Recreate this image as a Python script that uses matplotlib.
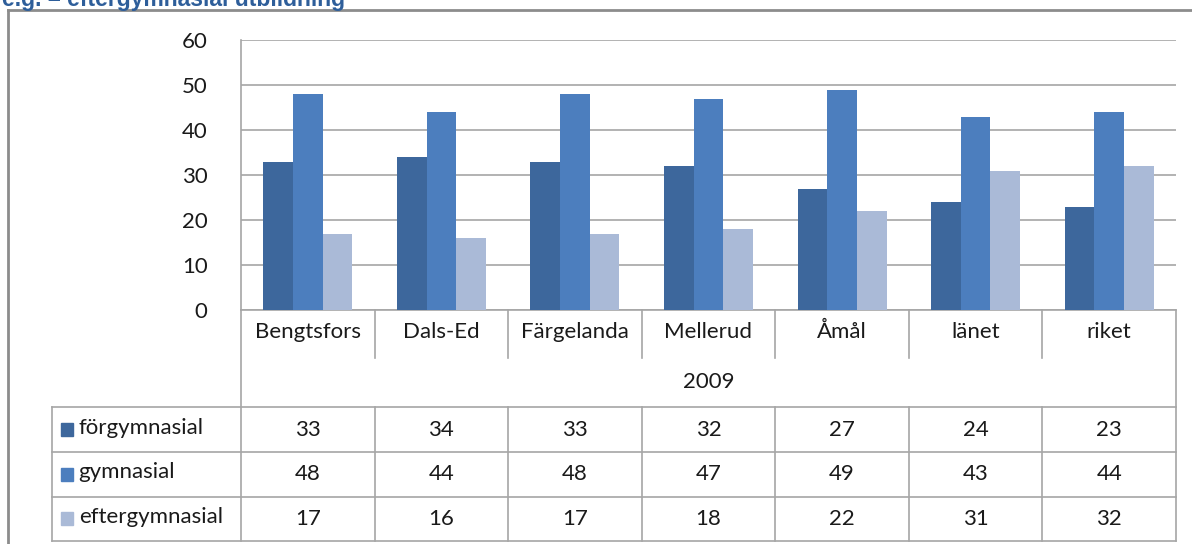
import numpy as np
import matplotlib.pyplot as plt
from matplotlib.lines import Line2D
from matplotlib.patches import Rectangle

plt.rcParams['font.family'] = ['Lato', 'DejaVu Sans']

# data
places = ['Bengtsfors', 'Dals-Ed', 'Färgelanda', 'Mellerud', 'Åmål', 'länet', 'riket']
year = '2009'
series = ['förgymnasial', 'gymnasial', 'eftergymnasial']
forgymnasial = [33, 34, 33, 32, 27, 24, 23]
gymnasial = [48, 44, 48, 47, 49, 43, 44]
eftergymnasial = [17, 16, 17, 18, 22, 31, 32]
values = [forgymnasial, gymnasial, eftergymnasial]
colors = ['#3D679C', '#4C7EBE', '#AABAD7']
title = 'e.g. – eftergymnasial utbildning'

W, H = 1192, 544
fs = 16
tc = '#1A1A1A'
fig = plt.figure(figsize=(W / 100, H / 100), dpi=100)

# plot area in pixels: x 241..1176, y 40..310
ax = fig.add_axes([241 / W, 1 - 310 / H, (1176 - 241) / W, (310 - 40) / H])
x = np.arange(len(places))
bw = 0.222
for k, (vals, c) in enumerate(zip(values, colors)):
    ax.bar(x + (k - 1) * bw, vals, width=bw, color=c, zorder=3)

ax.set_xlim(-0.5, len(places) - 0.5)
ax.set_ylim(0, 60)
ax.set_yticks(range(0, 61, 10))
ax.yaxis.grid(True, color='#A6A6A6', lw=1.2, zorder=0)
ax.set_xticks([])
ax.tick_params(axis='y', length=0, labelsize=fs, pad=24, colors=tc)
for side in ['top', 'right', 'bottom']:
    ax.spines[side].set_visible(False)
ax.spines['left'].set_color('#A6A6A6')
ax.spines['left'].set_linewidth(1.2)

# data table under the plot, x in data units, y in axes fraction
tr = ax.get_xaxis_transform()
px = 1 / 270.0
y_cat = -48 * px
y_year = -97 * px
rows = [-97 * px, -142 * px, -187 * px, -231 * px]
x_left = -0.5 - (241 - 52) / (935 / 7)
x_right = len(places) - 0.5
lc = '#A6A6A6'

def seg(x0, x1, y0, y1):
    ax.add_line(Line2D([x0, x1], [y0, y1], transform=tr, color=lc, lw=1.2, clip_on=False))

# category label row
seg(-0.5, x_right, 0, 0)
seg(-0.5, -0.5, 0, rows[-1])
seg(x_right, x_right, 0, rows[-1])
for i in range(1, len(places)):
    seg(i - 0.5, i - 0.5, 0, y_cat)
for i, name in enumerate(places):
    ax.text(i, y_cat / 2 + 2 * px, name, transform=tr, ha='center', va='center',
            fontsize=fs, color=tc)
ax.text((len(places) - 1) / 2, (y_cat + y_year) / 2, year, transform=tr,
        ha='center', va='center', fontsize=fs, color=tc)

# value rows
for r in rows:
    seg(x_left, x_right, r, r)
seg(x_left, x_left, rows[0], rows[-1])
for i in range(1, len(places)):
    seg(i - 0.5, i - 0.5, rows[0], rows[-1])
for k, (name, vals, c) in enumerate(zip(series, values, colors)):
    ym = (rows[k] + rows[k + 1]) / 2
    ax.add_patch(Rectangle((x_left + 0.07, ym - 6 * px), 0.085, 13 * px,
                           transform=tr, color=c, clip_on=False))
    ax.text(x_left + 0.2, ym + 2 * px, name, transform=tr, ha='left', va='center',
            fontsize=fs, color=tc)
    for i, v in enumerate(vals):
        ax.text(i, ym, str(v), transform=tr, ha='center', va='center',
                fontsize=fs, color=tc)

# outer frame and cut-off heading
fig.add_artist(Line2D([8 / W, 8 / W], [0, 1 - 10 / H], color='#8C8C8C', lw=2))
fig.add_artist(Line2D([8 / W, 1], [1 - 10 / H, 1 - 10 / H], color='#8C8C8C', lw=2))
fig.text(2 / W, 1 - 6 / H, title, ha='left', va='baseline', fontsize=16.5,
         fontweight='bold', color='#2E5E9A', family='Liberation Sans')

fig.savefig('out.png', dpi=100)
